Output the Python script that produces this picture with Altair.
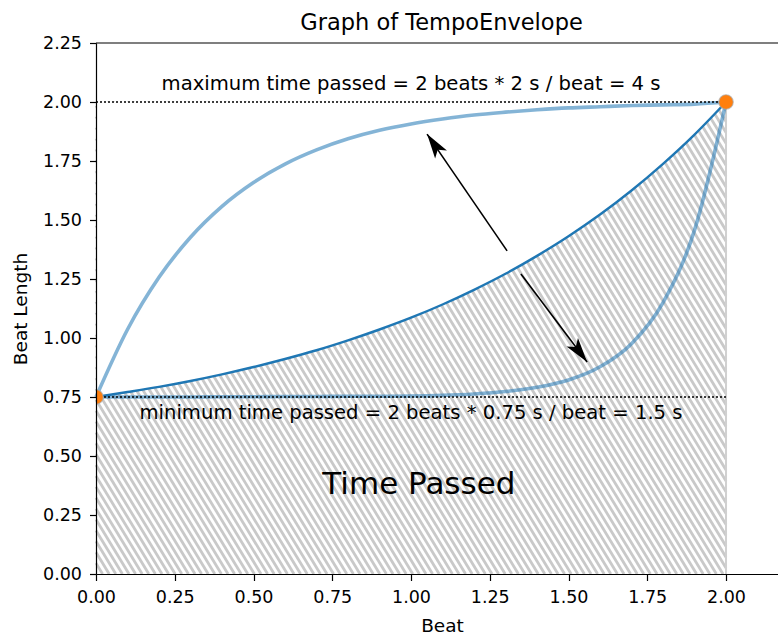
import math
import altair as alt
import numpy as np
import pandas as pd

# ---------------- data ----------------
beat = [0.0, 0.1, 0.2, 0.3, 0.4, 0.5, 0.6, 0.7, 0.8, 0.9, 1.0,
        1.1, 1.2, 1.3, 1.4, 1.5, 1.6, 1.7, 1.8, 1.9, 2.0]
upper_curve = [0.75, 1.036, 1.257, 1.427, 1.558, 1.659, 1.737, 1.797, 1.844, 1.880, 1.907,
               1.928, 1.945, 1.957, 1.967, 1.975, 1.980, 1.985, 1.988, 1.991, 2.0]
middle_curve = [0.75, 0.771, 0.793, 0.818, 0.846, 0.877, 0.911, 0.948, 0.990, 1.036, 1.086,
                1.142, 1.204, 1.272, 1.348, 1.431, 1.523, 1.625, 1.738, 1.862, 2.0]
lower_curve = [0.75, 0.75, 0.75, 0.75, 0.751, 0.751, 0.752, 0.752, 0.753, 0.753, 0.754,
               0.757, 0.763, 0.773, 0.791, 0.822, 0.878, 0.976, 1.150, 1.457, 2.0]

end_beats = [0.0, 2.0]
end_lengths = [0.75, 2.0]

ref_levels = [2.0, 0.75]

annot_texts = ["maximum time passed = 2 beats * 2 s / beat = 4 s",
               "minimum time passed = 2 beats * 0.75 s / beat = 1.5 s"]
annot_x = [1.0, 1.0]
annot_y = [2.051, 0.658]

big_text = ["Time Passed"]
big_x = [1.025]
big_y = [0.341]

arrow_tail_x = [1.305, 1.349]
arrow_tail_y = [1.369, 1.271]
arrow_tip_x = [1.051, 1.559]
arrow_tip_y = [1.864, 0.898]

x_ticks = [0.0, 0.25, 0.5, 0.75, 1.0, 1.25, 1.5, 1.75, 2.0]
y_ticks = [0.0, 0.25, 0.5, 0.75, 1.0, 1.25, 1.5, 1.75, 2.0, 2.25]

# ---------------- layout ----------------
W, H = 682, 531
XMAX, YMAX = 2.165, 2.25
PPX, PPY = W / XMAX, H / YMAX
FONT = "DejaVu Sans"
BLUE = "#1f77b4"

xscale = alt.Scale(domain=[0, XMAX], nice=False, zero=False)
yscale = alt.Scale(domain=[0, YMAX], nice=False, zero=False)
xaxis = alt.Axis(values=x_ticks, format=".2f", title="Beat", grid=False, labelFlush=False,
                 titleX=346, titleY=57, titleBaseline="alphabetic", titleAlign="center",
                 labelPadding=8, zindex=1)
yaxis = alt.Axis(values=y_ticks, format=".2f", title="Beat Length", grid=False, labelFlush=False,
                 titleX=-70, titleY=H / 2, titleAngle=270, titleBaseline="alphabetic",
                 titleAlign="center", labelPadding=8, zindex=1)


def X(f):
    return alt.X(f, type="quantitative", scale=xscale, axis=xaxis)


def Y(f):
    return alt.Y(f, type="quantitative", scale=yscale, axis=yaxis)


curves = pd.DataFrame({"beat": beat, "upper": upper_curve, "middle": middle_curve,
                       "lower": lower_curve, "top": [max(middle_curve)] * len(beat)})

# ---------------- hatch (decoration, clipped to [0, 2] x [0, 2]) ----------------
x_end = beat[-1]
y_top = max(middle_curve)
slope_px = 1.65          # pixels down per pixel right
spacing_px = 6.6         # horizontal spacing of hatch lines
s = PPY / (slope_px * PPX)
rows = []
b = 0.0
while b < x_end + s * y_top + 0.05:
    y_lo = max(0.0, (b - x_end) / s)
    y_hi = min(y_top, b / s)
    if y_hi > y_lo:
        rows.append({"x1": b - s * y_lo, "y1": y_lo, "x2": b - s * y_hi, "y2": y_hi})
    b += spacing_px / PPX
hatch_df = pd.DataFrame(rows)

hatch = alt.Chart(hatch_df).mark_rule(color="#c9c9c9", strokeWidth=2.8).encode(
    x=X("x1"), y=Y("y1"), x2="x2", y2="y2")

mask = alt.Chart(curves).mark_area(color="white", opacity=1, interpolate="monotone").encode(
    x=X("beat"), y=Y("middle"), y2="top")

edge_df = pd.DataFrame({"x": [x_end], "y0": [0.0], "y1": [y_top]})
edge = alt.Chart(edge_df).mark_rule(color="#d0d0d0", strokeWidth=2).encode(
    x=X("x"), y=Y("y0"), y2="y1")

upper = alt.Chart(curves).mark_line(color=BLUE, opacity=0.55, strokeWidth=3.6,
                                    interpolate="monotone").encode(
    x=X("beat"), y=Y("upper"))
lower = alt.Chart(curves).mark_line(color=BLUE, opacity=0.55, strokeWidth=3.6,
                                    interpolate="monotone").encode(
    x=X("beat"), y=Y("lower"))
middle = alt.Chart(curves).mark_line(color=BLUE, strokeWidth=2.4,
                                     interpolate="monotone").encode(
    x=X("beat"), y=Y("middle"))

ref_df = pd.DataFrame({"level": ref_levels, "x0": [0.0] * 2, "x1": [x_end] * 2})
refs = alt.Chart(ref_df).mark_rule(color="black", strokeWidth=1.4, strokeDash=[2, 2]).encode(
    x=X("x0"), x2="x1", y=Y("level"))

pts_df = pd.DataFrame({"beat": end_beats, "len": end_lengths})
pts = alt.Chart(pts_df).mark_point(shape="circle", filled=True, size=210, color="#ff7f0e",
                                   opacity=1, stroke="#aaaaaa", strokeWidth=1.2,
                                   strokeOpacity=0.7, clip=True).encode(
    x=X("beat"), y=Y("len"))

ann_df = pd.DataFrame({"t": annot_texts, "x": annot_x, "y": annot_y})
ann = alt.Chart(ann_df).mark_text(font=FONT, fontSize=19.6, align="center",
                                  baseline="alphabetic", color="black").encode(
    x=X("x"), y=Y("y"), text="t")

big_df = pd.DataFrame({"t": big_text, "x": big_x, "y": big_y})
big = alt.Chart(big_df).mark_text(font=FONT, fontSize=31, align="center",
                                  baseline="alphabetic", color="black").encode(
    x=X("x"), y=Y("y"), text="t")


def head_angle(tx, ty, hx, hy):
    dxp = (hx - tx) * PPX
    dyp = -(hy - ty) * PPY
    return math.degrees(math.atan2(dxp, -dyp)) % 360


arr_df = pd.DataFrame({"tx": arrow_tail_x, "ty": arrow_tail_y,
                       "hx": arrow_tip_x, "hy": arrow_tip_y})
arr_df["ang"] = [head_angle(a, b_, c, d) for a, b_, c, d in
                 zip(arrow_tail_x, arrow_tail_y, arrow_tip_x, arrow_tip_y)]
shafts = alt.Chart(arr_df).mark_rule(color="black", strokeWidth=1.6).encode(
    x=X("tx"), y=Y("ty"), x2="hx", y2="hy")
heads = alt.Chart(arr_df).mark_point(
    shape="M0,0 L0.55,1.9 L0,1.45 L-0.55,1.9 Z", filled=True, size=676,
    color="black", opacity=1).encode(
    x=X("hx"), y=Y("hy"), angle=alt.Angle("ang:Q", scale=None))

spine_df = pd.DataFrame({"x0": [0.0], "x1": [XMAX], "y": [YMAX]})
spine = alt.Chart(spine_df).mark_rule(color="black", strokeWidth=1.2).encode(
    x=X("x0"), x2="x1", y=Y("y"))

chart = alt.layer(hatch, mask, edge, upper, lower, middle, refs, pts, ann, big,
                  shafts, heads, spine).properties(
    width=W, height=H,
    title=alt.TitleParams("Graph of TempoEnvelope", font=FONT, fontSize=22.5,
                          fontWeight="normal", color="black", anchor="middle",
                          frame="group", dx=4.5, baseline="alphabetic", offset=-18),
    autosize=alt.AutoSizeParams(type="none"),
    padding={"left": 96, "top": 43, "right": 0, "bottom": 60},
    background="white",
).configure_view(stroke=None).configure_axis(
    labelFont=FONT, labelFontSize=17.5, labelColor="black",
    titleFont=FONT, titleFontSize=18.5, titleFontWeight="normal", titleColor="black",
    domainColor="black", domainWidth=1.2, tickColor="black", tickWidth=1.2, tickSize=6.5,
)

chart.save("out.html", embed_options={"renderer": "svg", "actions": False})
